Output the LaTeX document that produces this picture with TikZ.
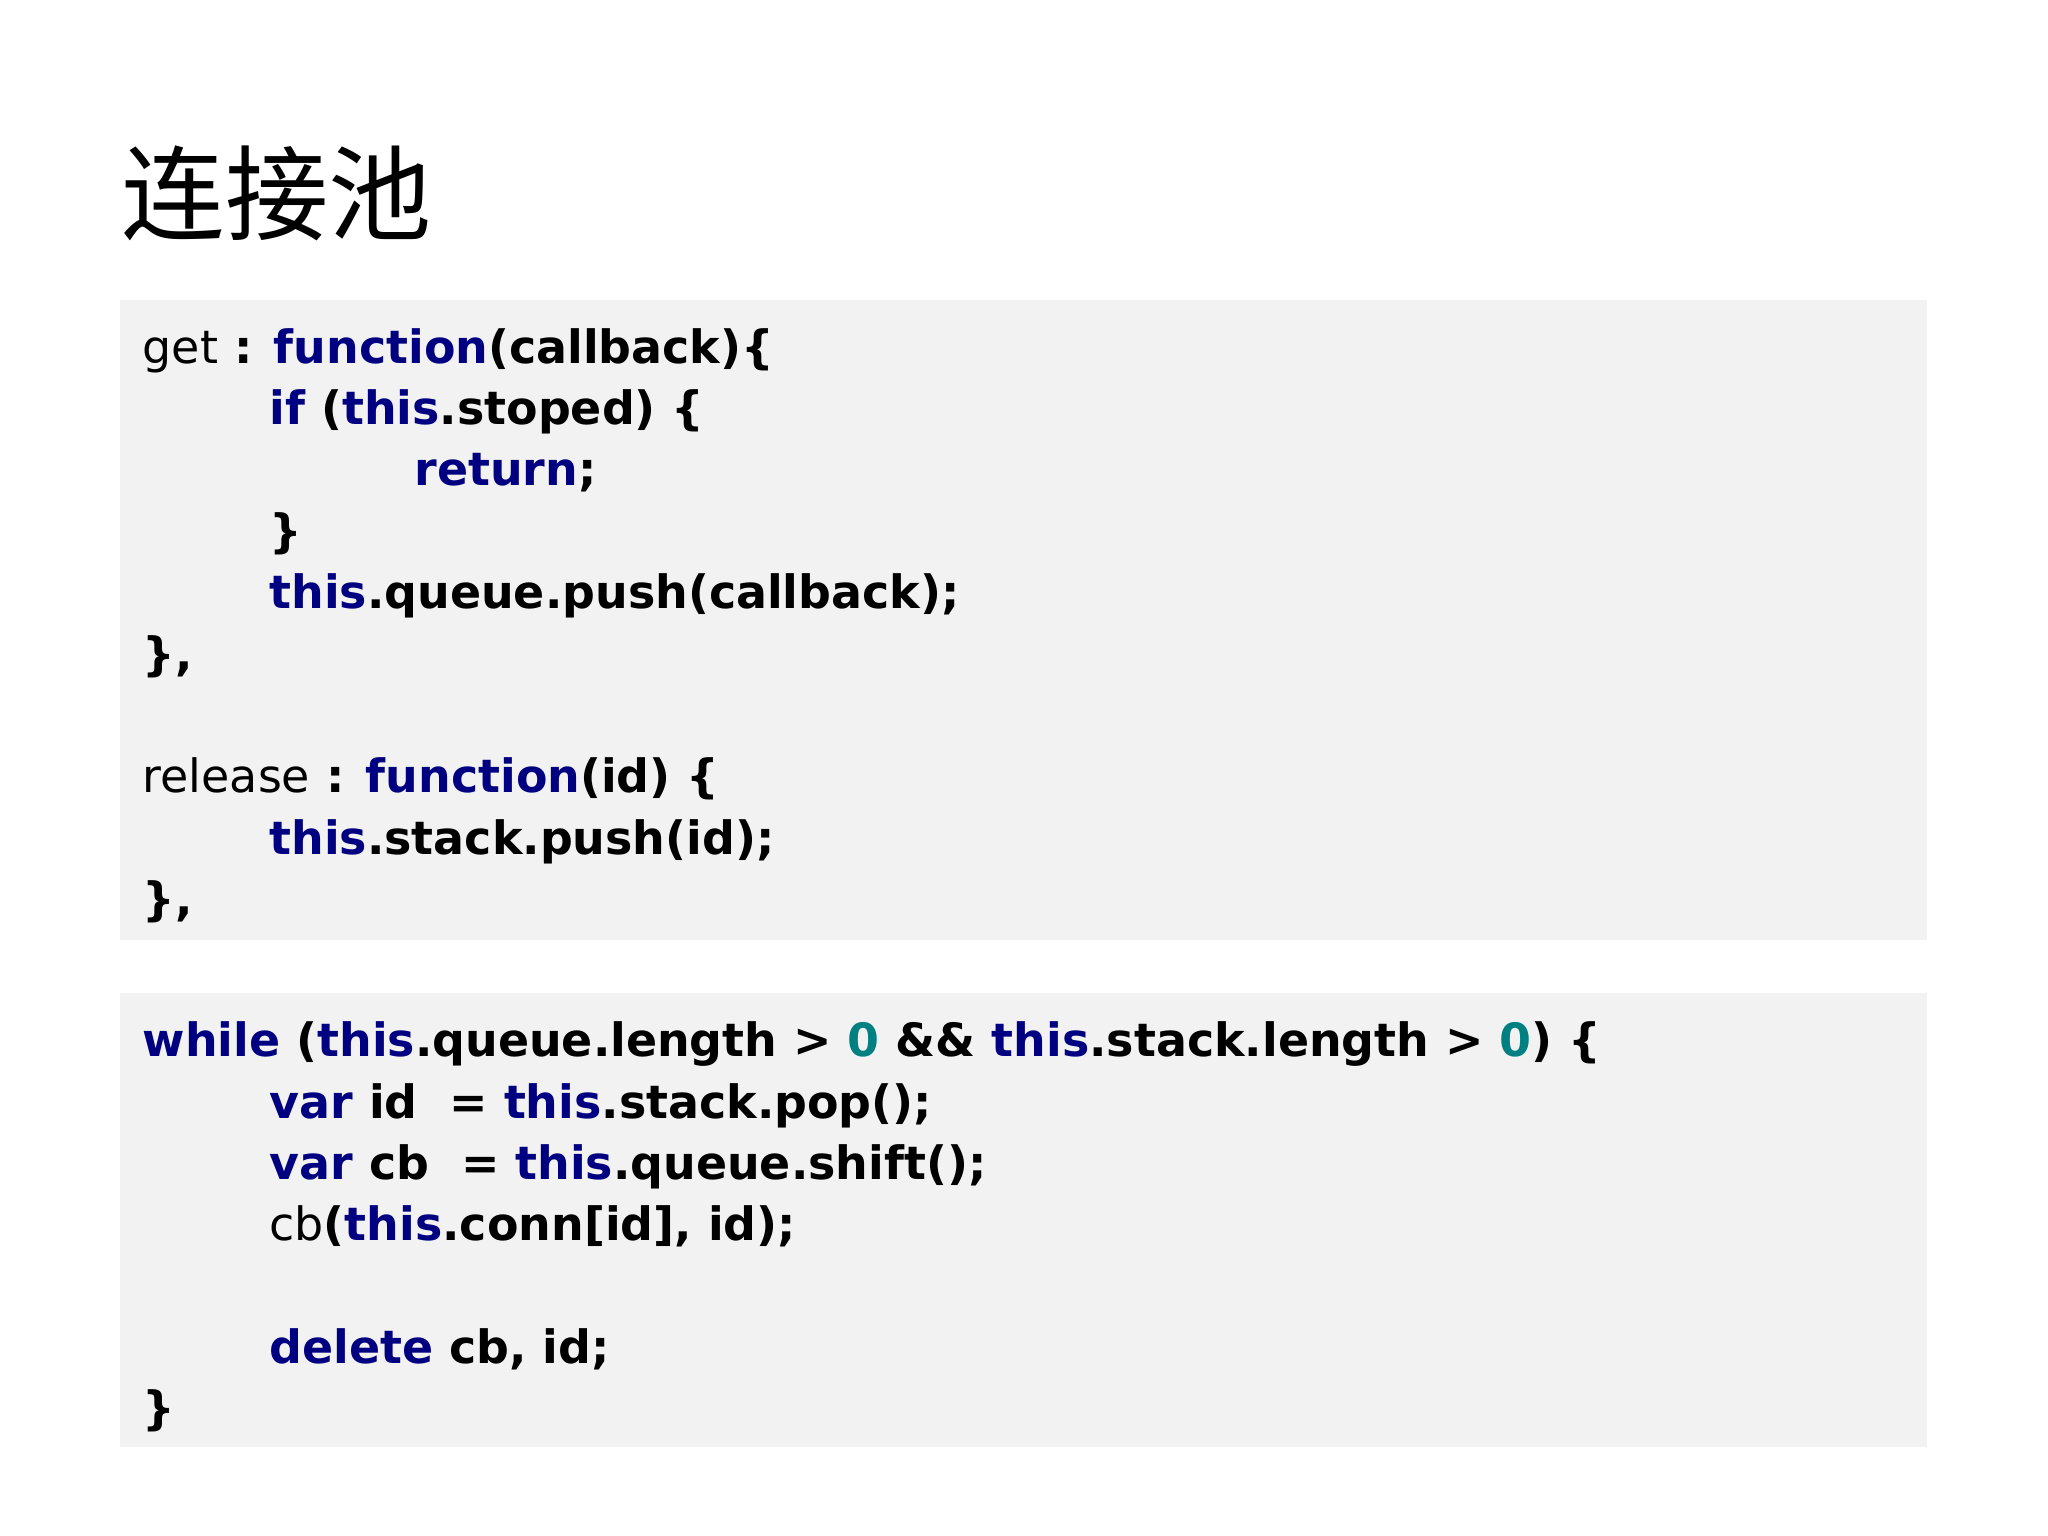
\documentclass[tikz,border=0pt]{standalone}
\usepackage{fontspec}
\setmainfont{DejaVu Sans}
\newfontfamily\cjk{Noto Sans CJK SC}
\definecolor{kwc}{HTML}{000080}
\definecolor{numc}{HTML}{008080}
\definecolor{boxbg}{HTML}{F2F2F3}
\newcommand{\kw}[1]{\textcolor{kwc}{#1}}
\newcommand{\nm}[1]{\textcolor{numc}{#1}}
\newcommand{\rg}[1]{{\mdseries #1}}
\tikzset{code/.style={anchor=base west,inner sep=0pt,font=\fontsize{20}{24}\selectfont\bfseries},
 bx/.style={fill=boxbg,draw=none}}
\begin{document}
\begin{tikzpicture}[x=0.02cm,y=-0.02cm]
\useasboundingbox (0,0) rectangle (1568,1176);
\fill[white] (0,0) rectangle (1568,1176);
\node[anchor=west,inner sep=0pt,font=\cjk\fontsize{45}{50}\selectfont] (title) at (93,148) {连接池};
\fill[bx] (92,230) rectangle (1475,720);
\fill[bx] (92,760) rectangle (1475,1108);
\node[code] (a1) at (109,278) {\rg{get} : \kw{function}(callback)\{};
\node[code] (a2) at (206,325) {\kw{if} (\kw{this}.stoped) \{};
\node[code] (a3) at (317,372) {\kw{return};};
\node[code] (a4) at (206,419) {\}};
\node[code] (a5) at (206,466) {\kw{this}.queue.push(callback);};
\node[code] (a6) at (109,513) {\},};
\node[code] (a7) at (109,607) {\rg{release} : \kw{function}(id) \{};
\node[code] (a8) at (206,654) {\kw{this}.stack.push(id);};
\node[code] (a9) at (109,701) {\},};
\node[code] (b1) at (109,809) {\kw{while} (\kw{this}.queue.length > \nm{0} \&\& \kw{this}.stack.length > \nm{0}) \{};
\node[code] (b2) at (206,856) {\kw{var} id~~= \kw{this}.stack.pop();};
\node[code] (b3) at (206,903) {\kw{var} cb~~= \kw{this}.queue.shift();};
\node[code] (b4) at (206,950) {\rg{cb}(\kw{this}.conn[id], id);};
\node[code] (b5) at (206,1044) {\kw{delete} cb, id;};
\node[code] (b6) at (109,1091) {\}};
\end{tikzpicture}
\end{document}
